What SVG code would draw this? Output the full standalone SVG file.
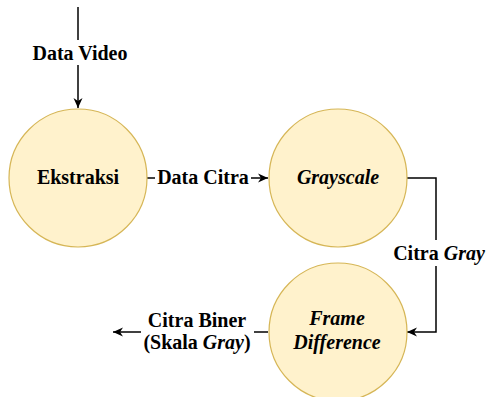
<svg xmlns="http://www.w3.org/2000/svg" width="488" height="397" viewBox="0 0 488 397">
<style>
.node{fill:#fff2cc;stroke:#d6b656;stroke-width:1.2}
.lbl{font-family:'Liberation Serif','DejaVu Serif',serif;font-weight:700;font-size:20px;fill:#000;text-anchor:middle}
.it{font-style:italic}
.edge{fill:none;stroke:#000;stroke-width:1.5}
</style>
<defs>
<marker id="arr" viewBox="0 0 10 10" refX="10" refY="5" markerWidth="10" markerHeight="10" markerUnits="userSpaceOnUse" orient="auto">
<path d="M0,0.5 L10,5 L0,9.5 L3,5 Z" fill="#000"/>
</marker>
</defs>
<rect width="488" height="397" fill="#fff"/>
<g id="connectors">
<path class="edge" d="M78,7 L78,40"/>
<path class="edge" d="M78,65 L78,108" marker-end="url(#arr)"/>
<path class="edge" d="M147,178 L155,178"/>
<path class="edge" d="M251,178 L268,178" marker-end="url(#arr)"/>
<path class="edge" d="M407,178 L436,178 L436,240"/>
<path class="edge" d="M436,266 L436,332 L407,332" marker-end="url(#arr)"/>
<path class="edge" d="M268,332 L254,332"/>
<path class="edge" d="M141,332 L113,332" marker-end="url(#arr)"/>
<text class="lbl" x="80" y="60" font-family="Liberation Serif">Data Video</text>
<text class="lbl" x="203" y="184" font-family="Liberation Serif">Data Citra</text>
<text class="lbl" x="439" y="260" font-family="Liberation Serif">Citra <tspan class="it">Gray</tspan></text>
<text class="lbl" x="197" y="327" font-family="Liberation Serif">Citra Biner</text>
<text class="lbl" x="197" y="349" font-family="Liberation Serif">(Skala <tspan class="it">Gray</tspan>)</text>
</g>
<g id="ekstraksi">
<circle class="node" cx="78" cy="178" r="69"/>
<text class="lbl" x="78" y="184" font-family="Liberation Serif">Ekstraksi</text>
</g>
<g id="grayscale">
<circle class="node" cx="338" cy="178" r="69"/>
<text class="lbl it" x="338" y="184" font-family="Liberation Serif">Grayscale</text>
</g>
<g id="frame-difference">
<circle class="node" cx="338" cy="332" r="69"/>
<text class="lbl it" x="337" y="325" font-family="Liberation Serif">Frame</text>
<text class="lbl it" x="337" y="349" font-family="Liberation Serif">Difference</text>
</g>
</svg>
